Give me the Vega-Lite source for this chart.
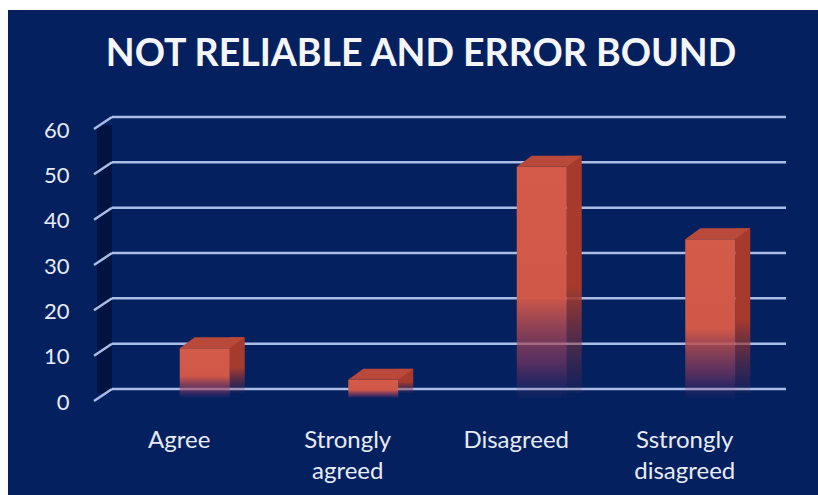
{
  "$schema": "https://vega.github.io/schema/vega-lite/v6.json",
  "width": 810,
  "height": 485,
  "autosize": {"type": "none"},
  "padding": {"top": 10, "left": 8, "right": 0, "bottom": 0},
  "background": "#ffffff",
  "title": {
    "text": "NOT RELIABLE AND ERROR BOUND",
    "font": "Lato",
    "fontSize": 37.5,
    "fontWeight": "bold",
    "color": "#f4f6fb",
    "anchor": "middle",
    "frame": "group",
    "orient": "top",
    "baseline": "alphabetic",
    "offset": -93,
    "dx": 8
  },
  "config": {
    "view": {"fill": "#04205f", "stroke": null},
    "axis": {"labelFont": "Lato", "labelColor": "#e6ebf6", "domain": false, "ticks": false, "grid": false}
  },
  "datasets": {
    "responses": [
      {"response": "Agree", "percent": 11},
      {"response": "Strongly agreed", "percent": 4},
      {"response": "Disagreed", "percent": 51},
      {"response": "Sstrongly disagreed", "percent": 35}
    ],
    "gridLevels": [
      {"level": 0}, {"level": 10}, {"level": 20}, {"level": 30},
      {"level": 40}, {"level": 50}, {"level": 60}
    ],
    "wall": [{"top": 60, "bottom": 0}]
  },
  "layer": [
    {
      "data": {"name": "wall"},
      "mark": {"type": "rect", "color": "#011341", "xOffset": -15, "x2Offset": 0, "yOffset": 8, "y2Offset": 4},
      "encoding": {
        "x": {
          "datum": "Agree", "type": "nominal", "bandPosition": 0, "title": null,
          "scale": {"domain": ["Agree", "Strongly agreed", "Disagreed", "Sstrongly disagreed"], "range": [104, 778], "paddingInner": 0, "paddingOuter": 0}
        },
        "x2": {"datum": "Agree", "bandPosition": 0},
        "y": {"field": "top", "type": "quantitative", "title": null, "scale": {"domain": [0, 60], "range": [379, 107], "nice": false}},
        "y2": {"field": "bottom"}
      }
    },
    {
      "data": {"name": "gridLevels"},
      "mark": {"type": "rule", "color": "#a9bde6", "strokeWidth": 2.5},
      "encoding": {
        "x": {"datum": "Agree", "type": "nominal", "bandPosition": 0, "title": null},
        "x2": {"datum": "Sstrongly disagreed", "bandPosition": 1},
        "y": {"field": "level", "type": "quantitative", "title": null}
      }
    },
    {
      "data": {"name": "gridLevels"},
      "mark": {"type": "rule", "color": "#a9bde6", "strokeWidth": 2.5, "xOffset": -18, "x2Offset": 0, "yOffset": 12, "y2Offset": 0},
      "encoding": {
        "x": {"datum": "Agree", "type": "nominal", "bandPosition": 0, "title": null},
        "x2": {"datum": "Agree", "bandPosition": 0},
        "y": {"field": "level", "type": "quantitative", "title": null},
        "y2": {"field": "level"}
      }
    },
    {
      "data": {"name": "responses"},
      "mark": {
        "type": "bar", "size": 15, "xOffset": 41, "yOffset": -2, "y2Offset": 4,
        "color": {
          "gradient": "linear", "x1": 0, "y1": 0, "x2": 0, "y2": 1,
          "stops": [
            {"offset": 0, "color": "#a63a2c"},
            {"offset": 0.55, "color": "#a63a2c"},
            {"offset": 1, "color": "rgba(120,45,70,0.1)"}
          ]
        }
      },
      "encoding": {
        "x": {"field": "response", "type": "nominal", "title": null},
        "y": {"field": "percent", "type": "quantitative", "title": null},
        "y2": {"datum": 0}
      }
    },
    {
      "data": {"name": "responses"},
      "mark": {
        "type": "bar", "size": 50, "xOffset": 8.5, "yOffset": 9, "y2Offset": 9,
        "color": {
          "gradient": "linear", "x1": 0, "y1": 0, "x2": 0, "y2": 1,
          "stops": [
            {"offset": 0, "color": "#d45b49"},
            {"offset": 0.56, "color": "#d05848"},
            {"offset": 0.85, "color": "rgba(150,60,95,0.55)"},
            {"offset": 1, "color": "rgba(120,50,110,0.05)"}
          ]
        }
      },
      "encoding": {
        "x": {
          "field": "response", "type": "nominal", "title": null,
          "axis": {
            "orient": "bottom", "offset": -67, "labelPadding": 0, "labelOffset": -17,
            "labelFontSize": 24, "labelAngle": 0, "labelAlign": "center", "labelBaseline": "top",
            "labelLineHeight": 31, "labelExpr": "split(datum.label, ' ')", "title": null
          }
        },
        "y": {
          "field": "percent", "type": "quantitative", "title": null,
          "axis": {
            "orient": "left", "offset": -61, "labelPadding": 0, "labelOffset": 13,
            "values": [0, 10, 20, 30, 40, 50, 60], "labelFontSize": 22,
            "labelAlign": "right", "labelBaseline": "middle", "title": null
          }
        },
        "y2": {"datum": 0}
      }
    },
    {
      "data": {"name": "responses"},
      "mark": {
        "type": "point", "filled": true, "opacity": 1, "strokeWidth": 0, "size": 4,
        "shape": "M -25 0 L 25 0 L 40 -11 L -10 -11 Z",
        "color": "#b9493a", "xOffset": 8.5, "yOffset": 9
      },
      "encoding": {
        "x": {"field": "response", "type": "nominal", "title": null},
        "y": {"field": "percent", "type": "quantitative", "title": null}
      }
    }
  ]
}
